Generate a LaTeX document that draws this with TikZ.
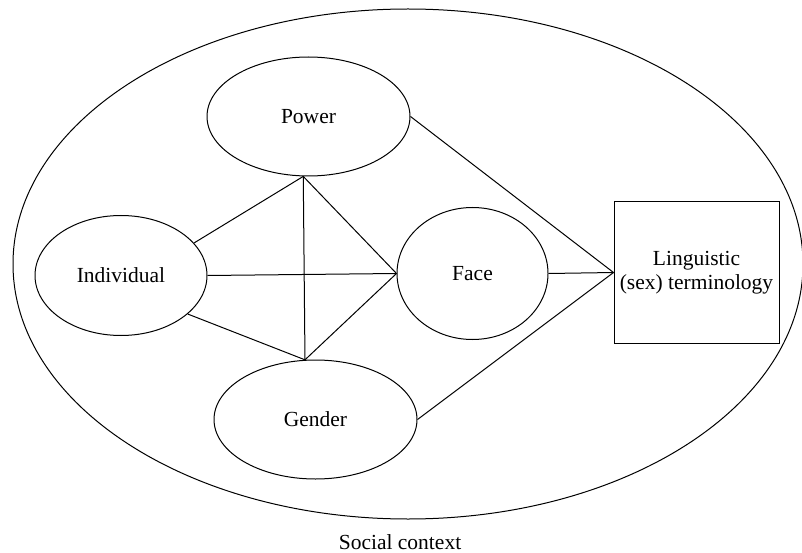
\documentclass[tikz,border=0pt]{standalone}
\usepackage{fontspec}
\setmainfont{Liberation Serif}
\usetikzlibrary{shapes.geometric}
\begin{document}
\begin{tikzpicture}[x=1pt,y=-1pt,
  every node/.style={font=\fontsize{21.5}{24}\selectfont},
  oval/.style={ellipse,draw,line width=1pt,inner sep=0pt},
  termbox/.style={rectangle,draw,line width=1pt,inner sep=0pt,align=center},
  link/.style={line width=1pt}]
\useasboundingbox (0,0) rectangle (802,553);
\node[oval,minimum width=790,minimum height=510] (context) at (408,264) {};
\node[oval,minimum width=203,minimum height=119] (power) at (308.5,116.5) {Power};
\node[oval,minimum width=172,minimum height=120] (indiv) at (121,275.5) {Individual};
\node[oval,minimum width=151,minimum height=132] (face) at (472.5,273.5) {Face};
\node[oval,minimum width=203,minimum height=119] (gender) at (315.5,419.5) {Gender};
\node[termbox,minimum width=165,minimum height=142] (term) at (696.5,272.5) {Linguistic\\(sex) terminology};
\node (social) at (400,542) {Social context};
\coordinate (pb) at (power.265.7);
\coordinate (gt) at (gender.100.9);
\draw[link] (indiv.24) -- (pb);
\draw[link] (indiv.-30.6) -- (gt);
\draw[link] (indiv.east) -- (face.west);
\draw[link] (pb) -- (gt);
\draw[link] (pb) -- (face.west);
\draw[link] (gt) -- (face.west);
\draw[link] (power.east) -- (term.west);
\draw[link] (face.east) -- (term.west);
\draw[link] (gender.east) -- (term.west);
\end{tikzpicture}
\end{document}
